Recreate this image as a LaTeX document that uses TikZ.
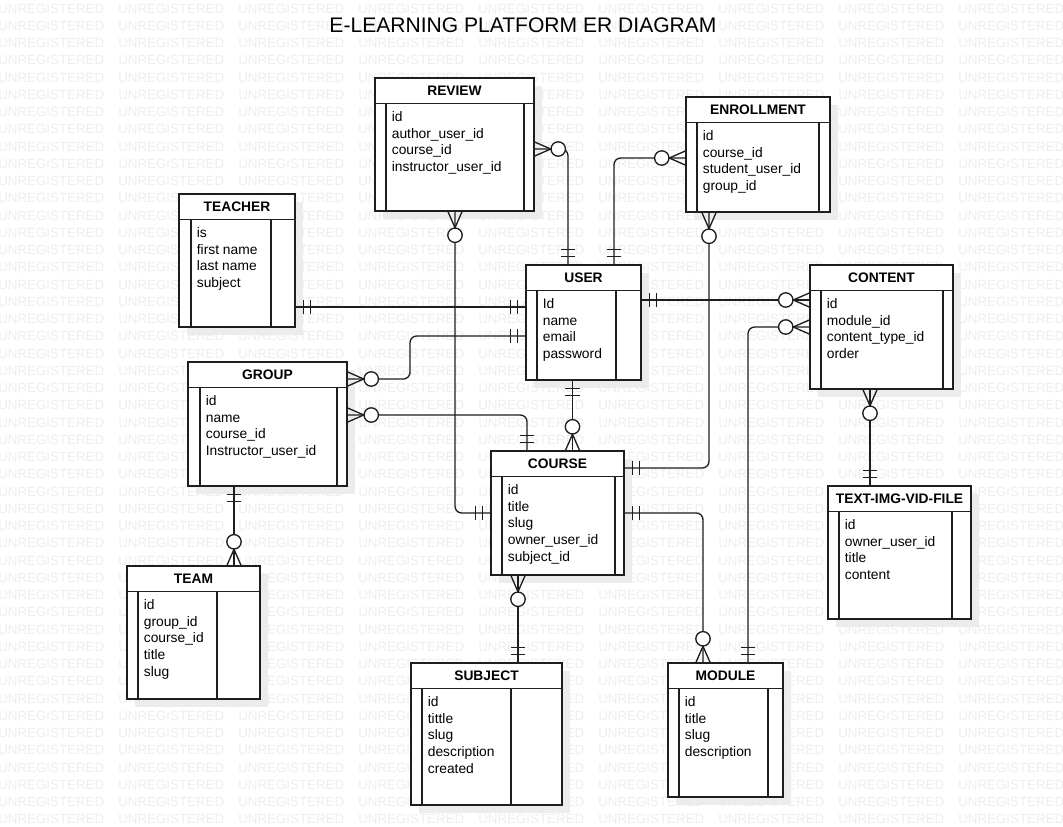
\documentclass[tikz,border=0pt]{standalone}
\usepackage{fontspec}
\setmainfont{Liberation Sans}
\usetikzlibrary{fit}
\definecolor{wm}{RGB}{241,237,237}
\definecolor{shadowc}{RGB}{236,236,236}
\definecolor{ink}{RGB}{30,30,30}
\tikzset{
 ebox/.style={draw=ink, line width=1.1pt, fill=white, inner sep=0pt, rectangle},
 eline/.style={draw=ink, line width=1.1pt},
 etitle/.style={font=\fontsize{10.35pt}{12pt}\selectfont\bfseries, anchor=base, inner sep=0pt},
 attr/.style={font=\fontsize{10.35pt}{12pt}\selectfont, anchor=base west, inner sep=0pt},
 conn/.style={draw=ink, line width=1pt},
 route/.style={conn, rounded corners=5pt},
 wmark/.style={font=\fontsize{10pt}{12pt}\selectfont, text=wm, anchor=base west, inner sep=0pt},
 ttl/.style={font=\fontsize{15.8pt}{18pt}\selectfont, anchor=base, inner sep=0pt}
}
% entity: name, x1, y1, x2, y2, inner left, inner right, title, attributes
\newcommand\erent[9]{%
 \fill[shadowc] ({#2+7.5},{#3+7.5}) rectangle ({#4+7.5},{#5+7.5});
 \path (#2,#3) coordinate (#1-nw) (#4,#5) coordinate (#1-se);
 \node[ebox, fit=(#1-nw)(#1-se)] (#1) {};
 \draw[eline] (#2,{#3+25.3}) -- (#4,{#3+25.3});
 \draw[eline] (#6,{#3+25.3}) -- (#6,#5);
 \draw[eline] (#7,{#3+25.3}) -- (#7,#5);
 \node[etitle] (#1-t) at ({(#2+#4)/2},{#3+17.9}) {#8};
 \foreach \atxt [count=\i] in {#9} {\node[attr] (#1-a\i) at ({#6+5.6},{#3+25.3+13.6+(\i-1)*16.7+4.5}) {\atxt};}
}
% zero-or-many marker: point, dx, dy (direction away from entity)
\newcommand\zmany[3]{%
 \path #1 coordinate (mk);
 \begin{scope}[shift={(mk)}]
 \draw[conn] ({-7*(#3)},{7*(#2)}) -- ({16*(#2)},{16*(#3)}) -- ({7*(#3)},{-7*(#2)});
 \draw[conn,fill=white] ({23.5*(#2)},{23.5*(#3)}) circle[radius=5.4pt];
 \end{scope}}
% one-and-only-one marker
\newcommand\oneone[3]{%
 \path #1 coordinate (mk);
 \begin{scope}[shift={(mk)}]
 \draw[conn] ({8*(#2)-7.4*(#3)},{8*(#3)+7.4*(#2)}) -- ({8*(#2)+7.4*(#3)},{8*(#3)-7.4*(#2)});
 \draw[conn] ({15*(#2)-7.4*(#3)},{15*(#3)+7.4*(#2)}) -- ({15*(#2)+7.4*(#3)},{15*(#3)-7.4*(#2)});
 \end{scope}}
\begin{document}
\begin{tikzpicture}[x=0.75pt,y=-0.75pt]
\useasboundingbox (0,0) rectangle (1063,826);
\fill[white] (0,0) rectangle (1063,826);
\begin{scope}
\clip (0,0) rectangle (1063,826);
\foreach \r in {0,...,47}{\foreach \c in {0,...,8}{\node[wmark] (wm-\r-\c) at ({-2+120*\c},{13.1+17.25*\r}) {UNREGISTERED};}}
\end{scope}
\node[ttl] (title) at (523,32.5) {E-LEARNING PLATFORM ER DIAGRAM};

\erent{review}{375}{78}{534}{211}{386}{524}{REVIEW}{id,author\_user\_id,course\_id,instructor\_user\_id}
\erent{teacher}{179}{194}{295}{327}{191}{271}{TEACHER}{is,first name,last name,subject}
\erent{user}{526}{265}{641}{380}{537}{616}{USER}{Id,name,email,password}
\erent{enrollment}{686}{97}{830}{212}{697}{819}{ENROLLMENT}{id,course\_id,student\_user\_id,group\_id}
\erent{content}{810}{265}{953}{389}{821}{943}{CONTENT}{id,module\_id,content\_type\_id,order}
\erent{group}{188}{362}{347}{486}{200}{337}{GROUP}{id,name,course\_id,Instructor\_user\_id}
\erent{course}{491}{451}{624}{575}{502}{615}{COURSE}{id,title,slug,owner\_user\_id,subject\_id}
\erent{subject}{411}{663}{562}{805}{422}{511}{SUBJECT}{id,tittle,slug,description,created}
\erent{module}{668}{663}{783}{797}{679}{768}{MODULE}{id,title,slug,description}
\erent{tivf}{828}{486}{971}{619}{839}{952}{TEXT-IMG-VID-FILE}{id,owner\_user\_id,title,content}
\erent{team}{127}{566}{260}{699}{138}{217}{TEAM}{id,group\_id,course\_id,title,slug}

% connectors
\draw[route] (review.east |- 0,149) -- (568,149) -- (user.north -| 568,0);
\draw[route] (review.south -| 455,0) -- (455,513) -- (course.west |- 0,513);
\draw[route] (teacher.east |- 0,307) -- (user.west |- 0,307);
\draw[route] (user.west |- 0,336) -- (410,336) -- (410,379) -- (group.east |- 0,379);
\draw[route] (group.east |- 0,415) -- (527,415) -- (course.north -| 527,0);
\draw[route] (user.south -| 572.5,0) -- (course.north -| 572.5,0);
\draw[route] (group.south -| 234,0) -- (team.north -| 234,0);
\draw[route] (course.south -| 518,0) -- (subject.north -| 518,0);
\draw[route] (course.east |- 0,468) -- (709,468) -- (enrollment.south -| 709,0);
\draw[route] (course.east |- 0,513) -- (703,513) -- (module.north -| 703,0);
\draw[route] (module.north -| 748,0) -- (748,327) -- (content.west |- 0,327);
\draw[route] (user.north -| 614,0) -- (614,158) -- (enrollment.west |- 0,158);
\draw[route] (user.east |- 0,300) -- (content.west |- 0,300);
\draw[route] (content.south -| 870,0) -- (tivf.north -| 870,0);

% end markers
\zmany{(review.east |- 0,149)}{1}{0}
\oneone{(user.north -| 568,0)}{0}{-1}
\zmany{(review.south -| 455,0)}{0}{1}
\oneone{(course.west |- 0,513)}{-1}{0}
\oneone{(teacher.east |- 0,307)}{1}{0}
\oneone{(user.west |- 0,307)}{-1}{0}
\oneone{(user.west |- 0,336)}{-1}{0}
\zmany{(group.east |- 0,379)}{1}{0}
\zmany{(group.east |- 0,415)}{1}{0}
\oneone{(course.north -| 527,0)}{0}{-1}
\oneone{(user.south -| 572.5,0)}{0}{1}
\zmany{(course.north -| 572.5,0)}{0}{-1}
\oneone{(group.south -| 234,0)}{0}{1}
\zmany{(team.north -| 234,0)}{0}{-1}
\zmany{(course.south -| 518,0)}{0}{1}
\oneone{(subject.north -| 518,0)}{0}{-1}
\oneone{(course.east |- 0,468)}{1}{0}
\zmany{(enrollment.south -| 709,0)}{0}{1}
\oneone{(course.east |- 0,513)}{1}{0}
\zmany{(module.north -| 703,0)}{0}{-1}
\oneone{(module.north -| 748,0)}{0}{-1}
\zmany{(content.west |- 0,327)}{-1}{0}
\oneone{(user.north -| 614,0)}{0}{-1}
\zmany{(enrollment.west |- 0,158)}{-1}{0}
\oneone{(user.east |- 0,300)}{1}{0}
\zmany{(content.west |- 0,300)}{-1}{0}
\zmany{(content.south -| 870,0)}{0}{1}
\oneone{(tivf.north -| 870,0)}{0}{-1}
\end{tikzpicture}
\end{document}
